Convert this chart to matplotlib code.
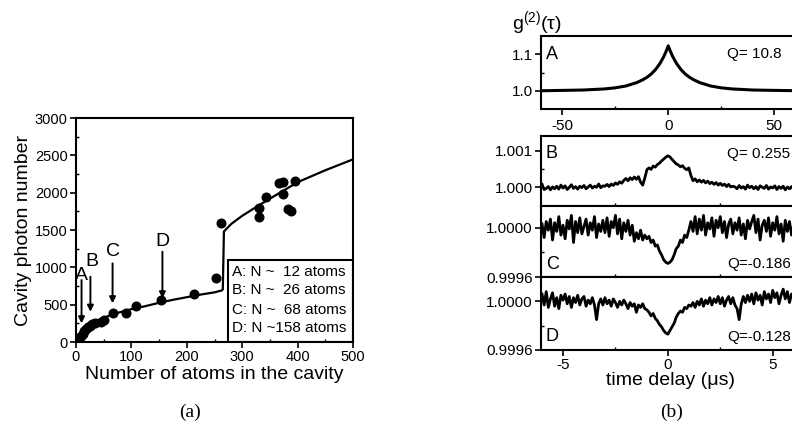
import numpy as np
import matplotlib
matplotlib.use("Agg")
import matplotlib.pyplot as plt
from matplotlib.patches import Rectangle
from matplotlib.ticker import MultipleLocator, FixedLocator

plt.rcParams['font.family'] = ['Liberation Sans', 'DejaVu Sans']
plt.rcParams['mathtext.fontset'] = 'custom'
plt.rcParams['mathtext.rm'] = 'Liberation Sans'
plt.rcParams['mathtext.it'] = 'Liberation Sans:italic'
plt.rcParams['axes.unicode_minus'] = False

# ---------------- panel (a) data ----------------
atoms_data = [3, 6, 9, 12, 15, 18, 22, 26, 28, 35, 46, 50, 67, 90, 109, 153, 213,
              252, 262, 330, 331, 343, 367, 373, 373, 382, 388, 396]
photons_data = [10, 40, 80, 110, 150, 180, 200, 215, 235, 260, 272, 290, 385, 385, 480,
                560, 645, 857, 1597, 1790, 1673, 1937, 2124, 2146, 1977, 1776, 1757, 2160]
fit_atoms = [0, 5, 10, 15, 20, 30, 40, 50, 65, 80, 100, 125, 150, 175, 200, 225, 250,
             263, 265, 267, 280, 300, 330, 350, 375, 400, 450, 500]
fit_photons = [0, 50, 110, 160, 200, 250, 290, 320, 370, 400, 440, 480, 525, 565, 600,
               635, 665, 690, 705, 1480, 1580, 1690, 1830, 1920, 2030, 2140, 2300, 2446]
arrow_labels = ['A', 'B', 'C', 'D']
arrow_x = [10, 26, 66, 156]
arrow_top = [830, 875, 1053, 1209]
arrow_tip = [250, 405, 518, 585]
letter_x = [9, 29, 66, 156]
letter_y = [897, 1075, 1209, 1343]
legend_lines = ['A: N ~  12 atoms', 'B: N ~  26 atoms', 'C: N ~  68 atoms', 'D: N ~158 atoms']

# ---------------- panel (b) data ----------------
tA = [-60, -50, -40, -30, -25, -20, -15, -12, -10, -8, -6, -4, -3, -2, -1, 0,
      1, 2, 3, 4, 6, 8, 10, 12, 15, 20, 25, 30, 40, 50, 62]
gA = [1.000, 1.001, 1.002, 1.005, 1.008, 1.013, 1.022, 1.030, 1.037, 1.046, 1.058,
      1.074, 1.084, 1.095, 1.108, 1.123, 1.108, 1.095, 1.084, 1.074, 1.058, 1.046,
      1.037, 1.030, 1.022, 1.013, 1.008, 1.005, 1.002, 1.001, 1.000]

# deviations from 1 in units of 1e-4, sampled from -6 to 6 us
dB = [0.8, -0.6, -0.3, 0.2, -0.7, 0.1, -0.4, 0.3, -0.5, 0.6,
      -0.2, 0.4, -0.6, 0.0, 0.7, -0.3, 0.2, -0.5, 0.3, -0.1,
      0.5, -0.4, 0.1, 0.6, -0.2, 0.3, 0.0, 0.9, -0.1, 0.4,
      0.3, 0.8, 0.2, 0.9, 0.5, 1.2, 0.8, 1.5, 1.1, 1.9,
      2.4, 1.8, 2.6, 2.1, 2.8, 2.2, 2.9, 1.4, 0.6, 2.5,
      4.8, 5.3, 4.9, 5.8, 5.5, 6.2, 6.6, 7.2, 7.7, 8.2,
      8.6,
      8.3, 7.6, 7.0, 6.4, 6.1, 5.6, 5.9, 5.2, 4.8, 5.3,
      3.2, 1.8, 2.3, 1.5, 2.0, 1.4, 1.9, 1.2, 1.7, 1.0,
      1.4, 0.8, 1.3, 0.6, 1.1, 0.5, 0.9, 0.2, 0.8, 0.1,
      0.3, 0.1, -0.4, 0.5, -0.2, 0.2, -0.5, 0.6, -0.1, 0.3,
      -0.4, 0.2, -0.6, 0.4, 0.0, -0.3, 0.5, -0.5, 0.1, -0.2,
      0.4, -0.6, 0.2, -0.3, 0.3, -0.7, 0.1, -0.4, 0.2, -0.6]
dC = [0.3, -0.8, 0.5, -0.2, 0.7, -1.0, 0.4, -0.3, 0.9, -0.6,
      0.2, -0.9, 0.6, -0.1, 1.0, -1.2, 0.5, -0.4, 0.8, -0.5,
      0.1, 0.7, -0.6, 0.4, -0.2, 0.9, -0.8, 0.3, -0.3, 0.6,
      -0.4, 0.8, -0.7, 0.5, 0.0, 1.0, -0.5, 0.7, -0.9, 0.4,
      -0.3, 0.6, -0.6, 0.2, -1.1, -0.4, -0.9, -0.2, -1.0, -0.6,
      -0.9, -0.7, -1.2, -1.0, -1.5, -1.4, -1.9, -2.2, -2.6, -2.8,
      -2.9,
      -2.8, -2.6, -2.2, -1.7, -1.5, -1.0, -1.2, -0.6, -0.8, -0.2,
      0.5, -0.3, 0.9, -0.5, 0.7, -0.2, 1.0, -0.6, 0.4, -0.1,
      0.8, -0.7, 0.6, 0.0, 0.9, -0.4, 0.5, -0.8, 0.3, 0.7,
      -0.5, 0.4, -0.2, 0.8, -0.6, 0.3, -0.9, 0.6, -0.1, 0.5,
      1.0, -0.4, 0.7, -1.0, 0.2, 0.6, -0.3, 0.8, -0.7, 0.4,
      -0.2, 0.9, -0.5, 0.3, -1.1, 0.6, -0.3, 0.5, -0.6, 0.2]
dD = [0.6, -0.3, 0.8, -0.5, 0.2, 0.7, -0.4, 0.3, -0.6, 0.5,
      0.1, 0.6, -0.2, 0.4, -0.5, 0.3, -0.1, 0.5, -0.3, 0.2,
      0.4, -0.4, 0.1, -0.2, 0.3, -0.3, -1.5, -0.2, 0.2, -0.3,
      0.3, -0.2, 0.1, -0.4, 0.2, -0.1, -0.5, 0.0, -0.3, 0.1,
      -0.2, -0.6, -0.1, -0.4, -0.2, -0.9, -0.3, -0.5, -0.2, -0.6,
      -0.7, -0.9, -1.2, -1.0, -1.4, -1.6, -1.9, -2.1, -2.4, -2.6,
      -2.7,
      -2.4, -2.1, -1.8, -1.3, -1.0, -0.8, -0.9, -0.5, -0.6, -0.3,
      -0.4, -0.1, -0.5, 0.0, -0.3, 0.2, -0.4, 0.1, -0.2, 0.3,
      -0.3, 0.2, -0.1, 0.4, -0.2, 0.3, -0.4, 0.1, 0.4, -0.2,
      0.3, -0.3, -0.6, -1.5, -0.2, 0.4, -0.1, 0.5, 0.0, 0.6,
      -0.2, 0.7, 0.1, 0.5, -0.3, 0.8, 0.2, 0.6, -0.1, 0.9,
      0.3, 0.7, -0.2, 0.5, 1.0, 0.2, 0.8, -0.1, 0.6, 0.3]
q_labels = ['Q= 10.8', 'Q= 0.255', 'Q=-0.186', 'Q=-0.128']

# ---------------- figure ----------------
W, H = 792, 440
fig = plt.figure(figsize=(W / 100, H / 100), dpi=100)

def frac(x0, y0, x1, y1):
    return [x0 / W, 1 - y1 / H, (x1 - x0) / W, (y1 - y0) / H]

LW_SP = 1.5

def style(ax, size):
    for s in ax.spines.values():
        s.set_linewidth(LW_SP)
    ax.tick_params(which='major', direction='out', length=4, width=1.2, labelsize=size, pad=2)
    ax.tick_params(which='minor', direction='in', length=2.5, width=1.0)

# panel (a)
ax = fig.add_axes(frac(76, 118, 353, 342))
ax.plot(fit_atoms, fit_photons, color='black', lw=1.6)
ax.plot(atoms_data, photons_data, 'o', color='black', ms=6.2)
ax.set_xlim(0, 500)
ax.set_ylim(0, 3000)
ax.xaxis.set_major_locator(MultipleLocator(100))
ax.xaxis.set_minor_locator(MultipleLocator(50))
ax.yaxis.set_major_locator(MultipleLocator(500))
ax.yaxis.set_minor_locator(MultipleLocator(250))
style(ax, 10.5)
ax.set_xlabel('Number of atoms in the cavity', fontsize=14, labelpad=1)
ax.set_ylabel('Cavity photon number', fontsize=14, labelpad=2)
for lab, x, yt, ytip, lx, ly in zip(arrow_labels, arrow_x, arrow_top, arrow_tip, letter_x, letter_y):
    ax.annotate('', xy=(x, ytip), xytext=(x, yt),
                arrowprops=dict(arrowstyle='-|>', lw=1.4, color='black',
                                mutation_scale=9, shrinkA=0, shrinkB=0))
    ax.text(lx, ly, lab, fontsize=14, ha='center', va='center')
ax.add_patch(Rectangle((275, 0), 225, 1098, fill=False, lw=1.5, edgecolor='black', zorder=5))
for txt, yy in zip(legend_lines, [941, 696, 428, 187]):
    ax.text(282, yy, txt, fontsize=11, ha='left', va='center')

# panel (b)
xl, xr = 541, 801
boxes = [(36, 109), (136, 206), (206, 277), (277, 350)]
axs = [fig.add_axes(frac(xl, y0, xr, y1)) for (y0, y1) in boxes]

series = [(tA, gA),
          (np.linspace(-6.0, 6.0, len(dB)), 1 + np.array(dB) * 1e-4),
          (np.linspace(-6.0, 6.0, len(dC)), 1 + np.array(dC) * 1e-4),
          (np.linspace(-6.0, 6.0, len(dD)), 1 + np.array(dD) * 1e-4)]
ylims = [(0.95, 1.15), (0.99949, 1.0014), (0.9996, 1.000176), (0.9996, 1.0002)]
yticks = [[1.0, 1.1], [1.000, 1.001], [0.9996, 1.0000], [0.9996, 1.0000]]
yfmt = ['{:.1f}', '{:.3f}', '{:.4f}', '{:.4f}']
yminor = [[1.05], [1.0005], [0.9998], [0.9998]]
letters = ['A', 'B', 'C', 'D']
letter_pos = ['top', 'top', 'bottom', 'bottom']

for i, a in enumerate(axs):
    t, g = series[i]
    a.plot(t, g, color='black', lw=2.2 if i == 0 else 2.0)
    a.set_ylim(*ylims[i])
    if i == 0:
        a.set_xlim(-60, 62.6)
        a.xaxis.set_major_locator(FixedLocator([-50, 0, 50]))
        a.xaxis.set_minor_locator(FixedLocator([-25, 25]))
    else:
        a.set_xlim(-6.05, 6.35)
        a.xaxis.set_major_locator(FixedLocator([-5, 0, 5]))
        a.xaxis.set_minor_locator(FixedLocator([-2.5, 2.5]))
    a.yaxis.set_major_locator(FixedLocator(yticks[i]))
    a.set_yticklabels([yfmt[i].format(v) for v in yticks[i]])
    a.yaxis.set_minor_locator(FixedLocator(yminor[i]))
    style(a, 11)
    if i in (1, 2):
        a.tick_params(axis='x', labelbottom=False)
    if i == 0:
        a.tick_params(axis='x', pad=3)
    yy = 0.75 if letter_pos[i] == 'top' else 0.18
    a.text(0.018, yy, letters[i], transform=a.transAxes, fontsize=13, ha='left', va='center')
    a.text(0.715, yy, q_labels[i], transform=a.transAxes, fontsize=11, ha='left', va='center')

axs[3].set_xlabel('time delay (\u03bcs)', fontsize=14, labelpad=0)
fig.text(512 / W, 1 - 23 / H, 'g$^{(2)}$(\u03c4)', fontsize=14, ha='left', va='center')

fig.text(190 / W, 1 - 412 / H, '(a)', fontsize=14, family='Liberation Serif', ha='center', va='center')
fig.text(672 / W, 1 - 412 / H, '(b)', fontsize=14, family='Liberation Serif', ha='center', va='center')

fig.savefig('out.png', dpi=100)
